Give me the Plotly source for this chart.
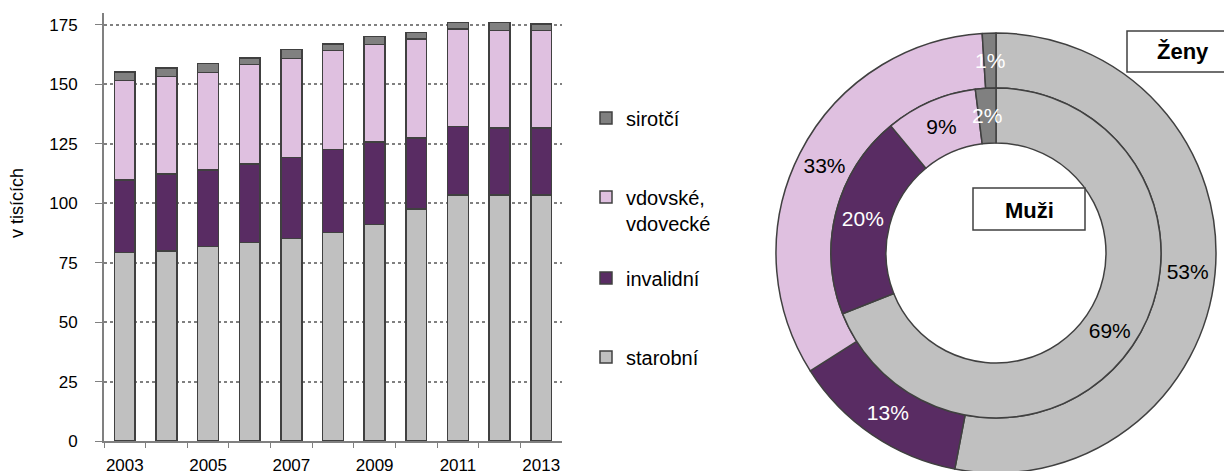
import math

import plotly.graph_objects as go

# --- data -----------------------------------------------------------------
years = [str(y) for y in range(2003, 2014)]
year_labels = [y if int(y) % 2 == 1 else "" for y in years]

starobni = [79.3, 80.0, 81.7, 83.4, 85.1, 87.6, 91.0, 97.6, 103.5, 103.5, 103.5]
invalidni = [30.5, 32.2, 32.3, 33.0, 34.1, 34.9, 34.7, 29.8, 28.8, 28.1, 28.1]
vdovske = [41.9, 41.2, 41.0, 41.9, 41.6, 41.7, 41.0, 41.7, 41.0, 41.1, 41.1]
sirotci = [3.5, 3.5, 3.7, 2.8, 3.8, 2.8, 3.5, 2.8, 2.8, 3.3, 2.7]

pie_labels = ["starobní", "invalidní", "vdovské, vdovecké", "sirotčí"]
zeny_pct = [53, 13, 33, 1]
muzi_pct = [69, 20, 9, 2]

y_ticks = [0, 25, 50, 75, 100, 125, 150, 175]

# --- style ----------------------------------------------------------------
FONT = "Liberation Sans, Arial, sans-serif"
C_STAR = "#c0c0c0"
C_INV = "#592c63"
C_VDOV = "#dfc0e0"
C_SIR = "#808080"
OUTLINE = "#404040"
pie_colors = [C_STAR, C_INV, C_VDOV, C_SIR]
text_colors = ["black", "white", "black", "white"]

W, H = 1232, 471
OFF = 8  # page body margin shifts the figure

# ring geometry in page pixels
CX, CY = 996, 253
R_OUT, R_MID, R_IN = 220, 165, 110


def px_x(p):
    return (p - OFF) / W


def px_y(p):
    return 1 - (p - OFF) / H


fig = go.Figure()

# one small legend per series so the entries sit where the original has them
series = [
    ("starobní", starobni, C_STAR, "legend4"),
    ("invalidní", invalidni, C_INV, "legend3"),
    ("vdovské,<br>vdovecké", vdovske, C_VDOV, "legend2"),
    ("sirotčí", sirotci, C_SIR, "legend"),
]
for name, vals, col, leg in series:
    fig.add_trace(go.Bar(
        x=years, y=vals, name=name, legend=leg,
        marker=dict(color=col, line=dict(color=OUTLINE, width=1.5)),
        hoverinfo="x+y+name",
    ))


def ring(values, r_outer, r_inner):
    # slices too thin for plotly's inside text get an annotation instead
    small = [v < 5 for v in values]
    fig.add_trace(go.Pie(
        labels=pie_labels, values=values, sort=False, direction="clockwise",
        rotation=0, hole=r_inner / r_outer, showlegend=False,
        domain=dict(x=[px_x(CX - r_outer), px_x(CX + r_outer)],
                    y=[px_y(CY + r_outer), px_y(CY - r_outer)]),
        marker=dict(colors=pie_colors, line=dict(color=OUTLINE, width=1.5)),
        texttemplate="%{value}%",
        textposition=["none" if s else "inside" for s in small],
        insidetextorientation="horizontal",
        textfont=dict(family=FONT, size=21, color=text_colors),
    ))
    total = sum(values)
    cum = 0
    notes = []
    r = (r_outer + r_inner) / 2
    for v, s, tc in zip(values, small, text_colors):
        mid = (cum + v / 2) / total * 2 * math.pi
        cum += v
        if not s:
            continue
        notes.append(dict(
            text=f"{v}%", xref="paper", yref="paper",
            x=px_x(CX + r * math.sin(mid)), y=px_y(CY - r * math.cos(mid)),
            xanchor="center", yanchor="middle", showarrow=False,
            font=dict(family=FONT, size=21, color=tc),
        ))
    return notes


pie_notes = ring(zeny_pct, R_OUT, R_MID) + ring(muzi_pct, R_MID, R_IN)


def legend_at(yc):
    return dict(
        x=px_x(586), y=px_y(yc), xanchor="left", yanchor="middle",
        valign="top", font=dict(family=FONT, size=20),
        bgcolor="rgba(0,0,0,0)",
    )


fig.update_layout(
    width=W, height=H,
    margin=dict(l=0, r=0, t=0, b=0, autoexpand=False),
    paper_bgcolor="white", plot_bgcolor="white",
    font=dict(family=FONT, size=17, color="black"),
    barmode="stack", bargap=0.5,
    showlegend=True,
    legend=legend_at(118),
    legend2=legend_at(210),
    legend3=legend_at(278),
    legend4=legend_at(357),
    xaxis=dict(
        domain=[px_x(104), px_x(562)], automargin=False,
        type="category", tickmode="array", tickvals=years, ticktext=year_labels,
        tickson="boundaries", ticks="outside", ticklen=5, tickcolor="#808080",
        tickangle=0, ticklabelstandoff=8,
        showline=True, linecolor="#808080", linewidth=2,
        showgrid=False, tickfont=dict(size=17),
    ),
    yaxis=dict(
        domain=[px_y(441), px_y(13)], automargin=False,
        range=[0, 180], tickvals=y_ticks,
        ticks="outside", ticklen=7, tickcolor="#808080", ticklabelstandoff=14,
        showline=True, linecolor="#808080", linewidth=2,
        showgrid=True, gridcolor="#808080", griddash="dot", gridwidth=1.5,
        zeroline=False, tickfont=dict(size=17),
    ),
    shapes=[
        dict(type="rect", xref="paper", yref="paper",
             x0=px_x(1127), x1=px_x(1250), y0=px_y(72), y1=px_y(31),
             line=dict(color=OUTLINE, width=1.5), fillcolor="white"),
        dict(type="rect", xref="paper", yref="paper",
             x0=px_x(973), x1=px_x(1085), y0=px_y(230), y1=px_y(188),
             line=dict(color=OUTLINE, width=1.5), fillcolor="white"),
    ],
    annotations=[
        dict(text="v tisících", xref="paper", yref="paper", textangle=-90,
             x=px_x(17), y=px_y(203), xanchor="center", yanchor="middle",
             showarrow=False, font=dict(family=FONT, size=18)),
        dict(text="<b>Ženy</b>", xref="paper", yref="paper",
             x=px_x(1183), y=px_y(52), xanchor="center", yanchor="middle",
             showarrow=False, font=dict(family=FONT, size=22)),
        dict(text="<b>Muži</b>", xref="paper", yref="paper",
             x=px_x(1029), y=px_y(210), xanchor="center", yanchor="middle",
             showarrow=False, font=dict(family=FONT, size=22)),
    ] + pie_notes,
)

fig.write_html("out.html")
